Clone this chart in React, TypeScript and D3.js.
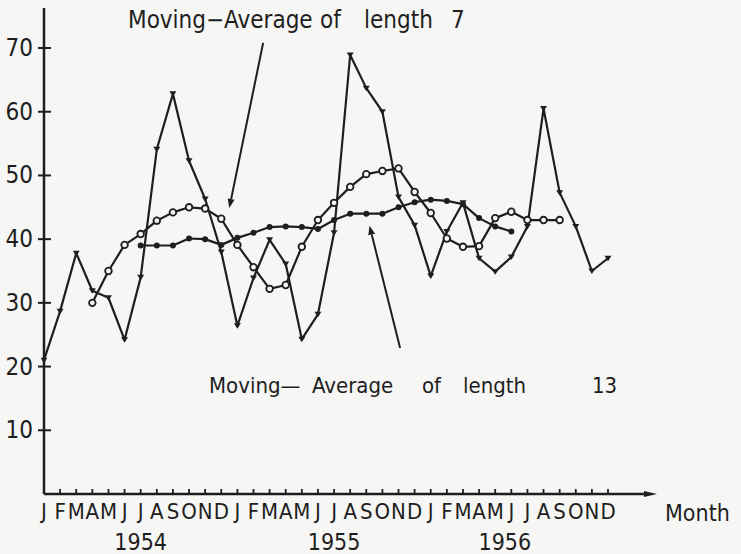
import React from "react";
import * as d3 from "d3";

// month letters and years along the x axis
const monthLetters = ["J", "F", "M", "A", "M", "J", "J", "A", "S", "O", "N", "D"];
const years = ["1954", "1955", "1956"];
const yearLabelAt = [6, 18, 28.6]; // month index under which each year is written
const yTicks = [10, 20, 30, 40, 50, 60, 70];

// monthly observations, Jan 1954 .. Dec 1956
const rawValues = [
  21, 28.7, 37.8, 31.9, 30.8, 24.2, 34, 54.1, 62.8, 52.3, 46.3, 38.0,
  26.4, 33.9, 39.9, 36.1, 24.3, 28.2, 41, 68.9, 63.7, 60, 46.6, 42.2,
  34.2, 41.2, 45.7, 37, 34.9, 37.2, 42, 60.5, 47.3, 42, 35, 37,
];

// moving average of length 7, starts at April 1954 (index 3)
const ma7Start = 3;
const ma7Values = [
  30, 35, 39.1, 40.8, 42.9, 44.2, 45, 44.8, 43.2, 39.1, 35.6, 32.2, 32.8, 38.8, 43,
  45.7, 48.2, 50.2, 50.7, 51.1, 47.4, 44.1, 40.1, 38.8, 38.9, 43.3, 44.3, 43, 43, 43,
];

// moving average of length 13, starts at July 1954 (index 6)
const ma13Start = 6;
const ma13Values = [
  39, 39, 39, 40.1, 40, 39.1, 40.2, 41, 41.9, 42, 41.9, 41.6,
  43, 44, 44, 44, 45, 45.8, 46.2, 46, 45.5, 43.3, 42, 41.2,
];

// annotation arrows in data units: [monthIndex, value]
const arrow7 = [[13.6, 70.8], [11.5, 44.9]];
const arrow13 = [[22.1, 22.9], [20.2, 42.1]];

const W = 741;
const H = 554;
const ink = "#1e1e1e";
const paper = "#f6f6f4";
const font = "'DejaVu Sans Condensed', 'DejaVu Sans', sans-serif";

type Pt = { i: number; v: number };

const App = () => {
  const months = years.flatMap(() => monthLetters);

  const x = d3.scaleLinear().domain([0, months.length - 1]).range([44, 608]);
  const y = d3.scaleLinear().domain([0, 70]).range([494, 48]);

  const raw: Pt[] = rawValues.map((v, i) => ({ i, v }));
  const ma7: Pt[] = ma7Values.map((v, k) => ({ i: k + ma7Start, v }));
  const ma13: Pt[] = ma13Values.map((v, k) => ({ i: k + ma13Start, v }));

  const line = d3.line<Pt>().x(d => x(d.i)).y(d => y(d.v));

  const arrow = (a: number[][], key: string) => {
    const [x1, y1] = [x(a[0][0]), y(a[0][1])];
    const [x2, y2] = [x(a[1][0]), y(a[1][1])];
    const ang = Math.atan2(y2 - y1, x2 - x1);
    const L = 9, Wd = 3.5;
    const bx = x2 - L * Math.cos(ang), by = y2 - L * Math.sin(ang);
    const px = -Math.sin(ang) * Wd, py = Math.cos(ang) * Wd;
    return (
      <g key={key}>
        <line x1={x1} y1={y1} x2={bx} y2={by} stroke={ink} strokeWidth={2} />
        <path d={`M${x2},${y2}L${bx + px},${by + py}L${bx - px},${by - py}Z`} fill={ink} />
      </g>
    );
  };

  const word = (t: string, x0: number, base: number, size: number, key: string) => (
    <text key={key} x={x0} y={base} fontSize={size} fill={ink} fontFamily={font}>{t}</text>
  );

  return (
    <div style={{ position: "fixed", left: 0, top: 0 }}>
      <svg width={W} height={H} viewBox={`0 0 ${W} ${H}`}>
        <rect width={W} height={H} fill={paper} />

        {/* axes */}
        <line x1={44} y1={8} x2={44} y2={y(0)} stroke={ink} strokeWidth={2.5} />
        <line x1={44} y1={y(0)} x2={648} y2={y(0)} stroke={ink} strokeWidth={2.5} />
        <path d={`M657,${y(0)}L644,${y(0) - 3}L644,${y(0) + 3}Z`} fill={ink} />

        {yTicks.map(t => (
          <g key={t}>
            <line x1={38} x2={51} y1={y(t)} y2={y(t)} stroke={ink} strokeWidth={2} />
            <text x={33} y={y(t) + 8} textAnchor="end" fontSize={24} fill={ink}
              fontFamily={font}>{t}</text>
          </g>
        ))}

        {months.map((m, i) => (
          <g key={i}>
            {i > 0 && <line x1={x(i)} x2={x(i)} y1={y(0)} y2={y(0) - 5} stroke={ink} strokeWidth={1.8} />}
            <text x={x(i)} y={519} textAnchor="middle" fontSize={22} fill={ink}
              fontFamily={font}>{m}</text>
          </g>
        ))}
        {years.map((yr, k) => (
          <text key={yr} x={x(yearLabelAt[k])} y={550} textAnchor="middle" fontSize={23}
            fill={ink} fontFamily={font}>{yr}</text>
        ))}
        {word("Month", 665, 521, 23, "month")}

        {/* series */}
        <path d={line(raw) ?? ""} fill="none" stroke={ink} strokeWidth={2.2} strokeLinejoin="round" />
        <path d={line(ma7) ?? ""} fill="none" stroke={ink} strokeWidth={2.2} strokeLinejoin="round" />
        <path d={line(ma13) ?? ""} fill="none" stroke={ink} strokeWidth={2.2} strokeLinejoin="round" />

        {raw.map(d => (
          <path key={`r${d.i}`}
            d={`M${x(d.i) - 3.5},${y(d.v) - 2.5}L${x(d.i) + 3.5},${y(d.v) - 2.5}L${x(d.i)},${y(d.v) + 3}Z`}
            fill={ink} />
        ))}
        {ma7.map(d => (
          <circle key={`a${d.i}`} cx={x(d.i)} cy={y(d.v)} r={3.3} fill={paper} stroke={ink} strokeWidth={1.8} />
        ))}
        {ma13.map(d => (
          <circle key={`b${d.i}`} cx={x(d.i)} cy={y(d.v)} r={3} fill={ink} />
        ))}

        {/* annotations */}
        {arrow(arrow7, "a7")}
        {arrow(arrow13, "a13")}
        {word("Moving\u2212Average", 128, 28, 24, "t1")}
        {word("of", 320, 28, 24, "t2")}
        {word("length", 364, 28, 24, "t3")}
        {word("7", 451, 28, 24, "t4")}
        {word("Moving\u2014", 209, 393, 22, "b1")}
        {word("Average", 312, 393, 22, "b2")}
        {word("of", 422, 393, 22, "b3")}
        {word("length", 463, 393, 22, "b4")}
        {word("13", 592, 393, 22, "b5")}
      </svg>
    </div>
  );
};

export default App;
